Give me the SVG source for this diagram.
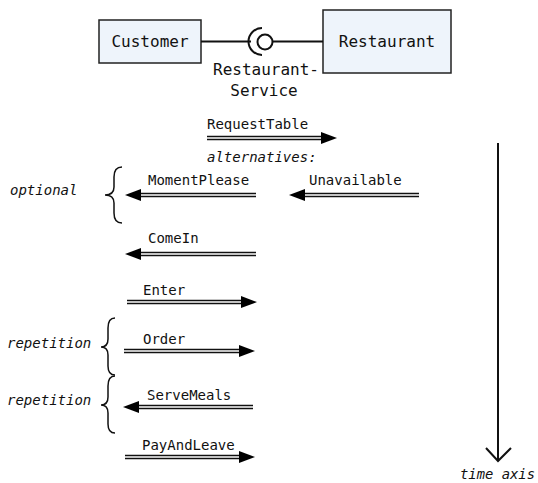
<svg xmlns="http://www.w3.org/2000/svg" width="538" height="483" viewBox="0 0 538 483">
<defs>
<style>
.box{fill:#eef4fb;stroke:#222;stroke-width:1.5}
.t{font-family:"DejaVu Sans Mono","Liberation Mono",monospace;fill:#111}
.big{font-size:16px}
.sm{font-size:14px}
.it{font-style:italic}
.ln{stroke:#111;stroke-width:2;fill:none}
.dl{stroke:#111;stroke-width:1.3;fill:none}
.ah{fill:#000}
.br{stroke:#111;stroke-width:1.5;fill:none}
</style>
</defs>
<rect width="538" height="483" fill="#fff"/>
<g id="customer">
<rect class="box" x="99" y="20" width="102" height="43"/>
<text class="t big" x="150" y="47" text-anchor="middle">Customer</text>
</g>
<g id="restaurant">
<rect class="box" x="323" y="10" width="128" height="63"/>
<text class="t big" x="387" y="47" text-anchor="middle">Restaurant</text>
</g>
<g id="interface">
<line class="ln" x1="201" y1="41.5" x2="251" y2="41.5"/>
<path class="ln" d="M262,28 A13.5,13.5 0 0 0 262,55"/>
<circle cx="265" cy="42" r="7.5" fill="#fff" stroke="#111" stroke-width="2"/>
<line class="ln" x1="272.5" y1="41.5" x2="323" y2="41.5"/>
<text class="t big" x="266" y="75" text-anchor="middle">Restaurant-</text>
<text class="t big" x="264" y="96" text-anchor="middle">Service</text>
</g>
<g id="connectors">
<g id="m-requesttable">
<path class="dl" d="M207,136.5H324M207,139.5H324"/>
<path class="ah" d="M337,138L321,132V144Z"/>
<text class="t sm" x="207" y="129">RequestTable</text>
</g>
<text class="t sm it" x="207" y="162">alternatives:</text>
<g id="m-momentplease">
<path class="dl" d="M138,193.5H256M138,196.5H256"/>
<path class="ah" d="M125,195L141,189V201Z"/>
<text class="t sm" x="148" y="185">MomentPlease</text>
</g>
<g id="m-unavailable">
<path class="dl" d="M302,193.5H419M302,196.5H419"/>
<path class="ah" d="M289,195L305,189V201Z"/>
<text class="t sm" x="309" y="185">Unavailable</text>
</g>
<g id="m-comein">
<path class="dl" d="M138,252.5H256M138,255.5H256"/>
<path class="ah" d="M125,254L141,248V260Z"/>
<text class="t sm" x="148" y="243">ComeIn</text>
</g>
<g id="m-enter">
<path class="dl" d="M127,300.5H244M127,303.5H244"/>
<path class="ah" d="M257,302L241,296V308Z"/>
<text class="t sm" x="143" y="295">Enter</text>
</g>
<g id="m-order">
<path class="dl" d="M124,349.5H242M124,352.5H242"/>
<path class="ah" d="M255,351L239,345V357Z"/>
<text class="t sm" x="143" y="344">Order</text>
</g>
<g id="m-servemeals">
<path class="dl" d="M136,405.5H253M136,408.5H253"/>
<path class="ah" d="M123,407L139,401V413Z"/>
<text class="t sm" x="147" y="400">ServeMeals</text>
</g>
<g id="m-payandleave">
<path class="dl" d="M125,455.5H242M125,458.5H242"/>
<path class="ah" d="M255,457L239,451V463Z"/>
<text class="t sm" x="142" y="450">PayAndLeave</text>
</g>
</g>
<g id="brace-optional">
<path class="br" d="M122,167Q114,167 114,177V187Q114,195 105,195Q114,195 114,203V213Q114,223 122,223"/>
<text class="t sm it" x="10" y="195">optional</text>
</g>
<g id="brace-repetition-1">
<path class="br" d="M115,318Q108,318 108,328V339Q108,347 101,347Q108,347 108,355V366Q108,375 115,375"/>
<text class="t sm it" x="7" y="348">repetition</text>
</g>
<g id="brace-repetition-2">
<path class="br" d="M115,376Q108,376 108,386V397Q108,405 101,405Q108,405 108,413V424Q108,433 115,433"/>
<text class="t sm it" x="7" y="405">repetition</text>
</g>
<g id="time-axis">
<line class="ln" x1="498" y1="143" x2="498" y2="461"/>
<path class="ln" d="M486,448L498,461L511,448"/>
<text class="t sm it" x="460" y="479" textLength="75" lengthAdjust="spacingAndGlyphs">time axis</text>
</g>
</svg>
